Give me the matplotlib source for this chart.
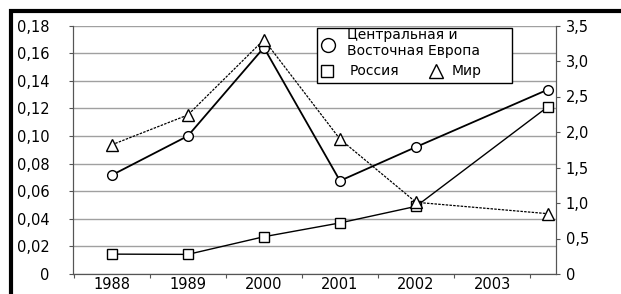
import matplotlib
matplotlib.use('Agg')
import matplotlib.pyplot as plt
import numpy as np
from matplotlib.lines import Line2D
from matplotlib.patches import Rectangle
from matplotlib.ticker import FixedLocator, FuncFormatter

plt.rcParams['font.family'] = ['DejaVu Sans']
plt.rcParams['font.size'] = 10

# data
year_labels = ['1988', '1989', '2000', '2001', '2002', '2003']
x_pos = [0, 1, 2, 3, 4, 5.73]          # last point sits past the 2003 slot
cee = [0.0716, 0.100, 0.164, 0.0675, 0.092, 0.1335]     # left axis
russia = [0.0144, 0.0142, 0.027, 0.037, 0.049, 0.121]   # left axis
world = [1.82, 2.24, 3.30, 1.90, 1.01, 0.85]            # right axis

W, H = 621, 294
fig = plt.figure(figsize=(W / 100, H / 100), dpi=100)
ax = fig.add_axes([73 / W, 1 - 274 / H, (556 - 73) / W, (274 - 25.5) / H])
ax2 = ax.twinx()

ax.set_xlim(-0.51, 5.84)
ax.set_ylim(0, 0.18)
ax2.set_ylim(0, 3.5)

# gridlines of the left axis
ax.set_yticks(np.arange(0, 0.181, 0.02))
ax.yaxis.set_major_formatter(FuncFormatter(lambda v, p: '0' if v == 0 else f'{v:.2f}'.replace('.', ',')))
ax.grid(axis='y', color='#a0a0a0', linewidth=1.0)
ax.set_axisbelow(True)

ax2.set_yticks(np.arange(0, 3.51, 0.5))
ax2.yaxis.set_major_formatter(FuncFormatter(lambda v, p: '0' if v == 0 else f'{v:.1f}'.replace('.', ',')))

# x ticks: marks between categories, labels at centers
ax.xaxis.set_major_locator(FixedLocator(np.arange(-0.5, 6, 1)))
ax.xaxis.set_major_formatter(FuncFormatter(lambda v, p: ''))
ax.xaxis.set_minor_locator(FixedLocator(np.arange(len(year_labels))))
ax.set_xticklabels(year_labels, minor=True, fontsize=10.5)
ax.tick_params(axis='x', which='major', length=3, color='#555555')
ax.tick_params(axis='x', which='minor', length=0, pad=2)
ax.tick_params(axis='y', length=3, color='#555555', pad=14, labelsize=10.5)
ax2.tick_params(axis='y', length=3, color='#555555', pad=4, labelsize=10.5)

for a in (ax, ax2):
    a.spines['top'].set_visible(False)
    for s in ('left', 'right', 'bottom'):
        a.spines[s].set_color('#555555')

ax.plot(x_pos, cee, color='black', lw=1.3, marker='o', ms=7, mfc='white', mec='black', mew=1.0, zorder=3)
ax.plot(x_pos, russia, color='black', lw=1.0, marker='s', ms=7, mfc='white', mec='black', mew=1.0, zorder=3)
ax2.plot(x_pos, world, color='black', lw=0.9, ls=(0, (2, 1)), marker='^', ms=8, mfc='white', mec='black', mew=1.0, zorder=3)

# hand-made legend box
def fx(px):
    return px / W

def fy(py):
    return 1 - py / H

fig.add_artist(Rectangle((fx(317), fy(83)), fx(512) - fx(317), fy(28) - fy(83),
                         transform=fig.transFigure, facecolor='white', edgecolor='black', lw=1.0, zorder=5))
fig.add_artist(Line2D([fx(328)], [fy(45)], marker='o', ms=10, mfc='white', mec='black', mew=1.0, zorder=6))
fig.add_artist(Line2D([fx(327)], [fy(71)], marker='s', ms=9, mfc='white', mec='black', mew=1.0, zorder=6))
fig.add_artist(Line2D([fx(436)], [fy(71)], marker='^', ms=10, mfc='white', mec='black', mew=1.0, zorder=6))
fig.text(fx(347), fy(43), 'Центральная и\nВосточная Европа', va='center', ha='left', linespacing=1.25, zorder=7)
fig.text(fx(350), fy(71), 'Россия', va='center', ha='left', zorder=7)
fig.text(fx(452), fy(71), 'Мир', va='center', ha='left', zorder=7)

# thick frame on the top and left edges
fig.add_artist(Line2D([fx(9), 1], [fy(11), fy(11)], color='black', lw=3, solid_capstyle='butt'))
fig.add_artist(Line2D([fx(11), fx(11)], [fy(9), 0], color='black', lw=3, solid_capstyle='butt'))

fig.savefig('out.png', dpi=100)
